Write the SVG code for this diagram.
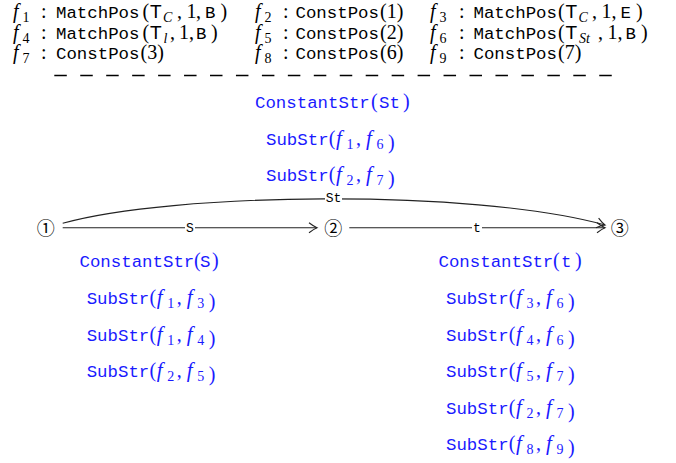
<svg xmlns="http://www.w3.org/2000/svg" width="676" height="463" viewBox="0 0 676 463">
<style>
text{fill:#000;}
.mi{font-family:"Liberation Serif",serif;font-style:italic;font-size:21px;}
.mh{font-family:"Liberation Serif",serif;font-style:italic;font-size:20px;}
.rm{font-family:"Liberation Serif",serif;font-size:20px;}
.tt{font-family:"Liberation Mono",monospace;font-size:17.4px;}
.sf{font-family:"Liberation Sans",sans-serif;font-size:19px;}
.sub{font-family:"Liberation Serif",serif;font-size:14px;}
.subi{font-family:"Liberation Serif",serif;font-style:italic;font-size:14px;}
.blue text,.blue tspan{fill:#1a1aff;}
.node{font-family:"Noto Sans CJK JP","DejaVu Sans",sans-serif;font-size:18px;text-anchor:middle;dominant-baseline:central;}
.edge{fill:none;stroke:#222;stroke-width:1.1;}
.lbl{font-family:"Liberation Mono",monospace;font-size:13px;text-anchor:middle;dominant-baseline:central;}
.lblbg{fill:#fff;}
</style>
<defs>
<marker id="to" viewBox="-9 -6 11 12" refX="0" refY="0" markerWidth="11" markerHeight="12" markerUnits="userSpaceOnUse" orient="auto">
<path d="M-8,-5 Q-3,-1.2 0,0 Q-3,1.2 -8,5" fill="none" stroke="#222" stroke-width="1.1"/>
</marker>
</defs>

<g id="legend">
<text y="18"><tspan class="mh" x="13">f</tspan><tspan class="sub" x="22.5" y="22">1</tspan><tspan class="rm" x="41" y="18">:</tspan><tspan class="tt" x="56">MatchPos</tspan><tspan class="rm" x="142.5">(</tspan><tspan class="sf" x="150">T</tspan><tspan class="subi" x="163" y="22">C</tspan><tspan class="rm" x="177" y="18">,</tspan><tspan class="rm" x="186.5">1</tspan><tspan class="rm" x="196">,</tspan><tspan class="tt" x="205">B</tspan><tspan class="rm" x="220.5">)</tspan></text>
<text y="18"><tspan class="mh" x="255">f</tspan><tspan class="sub" x="264.5" y="22">2</tspan><tspan class="rm" x="283" y="18">:</tspan><tspan class="tt" x="295.5">ConstPos</tspan><tspan class="rm" x="380">(1)</tspan></text>
<text y="18"><tspan class="mh" x="430">f</tspan><tspan class="sub" x="439.5" y="22">3</tspan><tspan class="rm" x="459" y="18">:</tspan><tspan class="tt" x="473.5">MatchPos</tspan><tspan class="rm" x="558">(</tspan><tspan class="sf" x="565.5">T</tspan><tspan class="subi" x="578.5" y="22">C</tspan><tspan class="rm" x="592" y="18">,</tspan><tspan class="rm" x="601.5">1</tspan><tspan class="rm" x="611.5">,</tspan><tspan class="tt" x="620.5">E</tspan><tspan class="rm" x="636">)</tspan></text>

<text y="38.5"><tspan class="mh" x="13">f</tspan><tspan class="sub" x="22.5" y="42.5">4</tspan><tspan class="rm" x="41" y="38.5">:</tspan><tspan class="tt" x="56">MatchPos</tspan><tspan class="rm" x="142.5">(</tspan><tspan class="sf" x="150">T</tspan><tspan class="subi" x="163.5" y="42.5">l</tspan><tspan class="rm" x="170" y="38.5">,</tspan><tspan class="rm" x="179">1</tspan><tspan class="rm" x="189">,</tspan><tspan class="tt" x="196">B</tspan><tspan class="rm" x="211">)</tspan></text>
<text y="38.5"><tspan class="mh" x="255">f</tspan><tspan class="sub" x="264.5" y="42.5">5</tspan><tspan class="rm" x="283" y="38.5">:</tspan><tspan class="tt" x="295.5">ConstPos</tspan><tspan class="rm" x="380">(2)</tspan></text>
<text y="38.5"><tspan class="mh" x="430">f</tspan><tspan class="sub" x="439.5" y="42.5">6</tspan><tspan class="rm" x="459" y="38.5">:</tspan><tspan class="tt" x="473.5">MatchPos</tspan><tspan class="rm" x="558">(</tspan><tspan class="sf" x="565.5">T</tspan><tspan class="subi" x="579" y="42.5">St</tspan><tspan class="rm" x="598" y="38.5">,</tspan><tspan class="rm" x="607.5">1</tspan><tspan class="rm" x="617.5">,</tspan><tspan class="tt" x="625.5">B</tspan><tspan class="rm" x="641">)</tspan></text>

<text y="59"><tspan class="mh" x="13">f</tspan><tspan class="sub" x="22.5" y="63">7</tspan><tspan class="rm" x="41" y="59">:</tspan><tspan class="tt" x="56">ConstPos</tspan><tspan class="rm" x="140.5">(3)</tspan></text>
<text y="59"><tspan class="mh" x="255">f</tspan><tspan class="sub" x="264.5" y="63">8</tspan><tspan class="rm" x="283" y="59">:</tspan><tspan class="tt" x="295.5">ConstPos</tspan><tspan class="rm" x="380">(6)</tspan></text>
<text y="59"><tspan class="mh" x="430">f</tspan><tspan class="sub" x="439.5" y="63">9</tspan><tspan class="rm" x="459" y="59">:</tspan><tspan class="tt" x="473.5">ConstPos</tspan><tspan class="rm" x="558">(7)</tspan></text>

<line x1="54.3" y1="75.5" x2="612" y2="75.5" stroke="#000" stroke-width="1.3" stroke-dasharray="12.5 13.45"/>
</g>

<g id="connectors">
<path id="e12" class="edge" d="M62.7,227.7 L317,227.7" marker-end="url(#to)"/>
<path id="e23" class="edge" d="M349.3,227.7 L605,227.7" marker-end="url(#to)"/>
<path id="e13" class="edge" d="M62.7,223.3 C170,193 470,188 605,225" marker-end="url(#to)"/>
<rect class="lblbg" x="185" y="221" width="10" height="13"/>
<text class="lbl" x="190" y="228">S</text>
<rect class="lblbg" x="472" y="221" width="10" height="13"/>
<text class="lbl" x="477" y="228">t</text>
<rect class="lblbg" x="325" y="191" width="17" height="13"/>
<text class="lbl" x="333.5" y="198">St</text>
</g>

<g id="n1"><text class="node" x="45.8" y="227">①</text></g>
<g id="n2"><text class="node" x="333.3" y="227">②</text></g>
<g id="n3"><text class="node" x="619.7" y="227">③</text></g>

<g id="label-e13" class="blue">
<text y="108"><tspan class="tt" x="255">ConstantStr</tspan><tspan class="rm" x="371">(</tspan><tspan class="tt" x="379">St</tspan><tspan class="rm" x="403">)</tspan></text>
<text y="145"><tspan class="tt" x="266">SubStr</tspan><tspan class="rm" x="328.7">(</tspan><tspan class="mi" x="336">f</tspan><tspan class="sub" x="346.5" y="149">1</tspan><tspan class="rm" x="356" y="145">,</tspan><tspan class="mi" x="366">f</tspan><tspan class="sub" x="376.5" y="149">6</tspan><tspan class="rm" x="388">)</tspan></text>
<text y="181"><tspan class="tt" x="266">SubStr</tspan><tspan class="rm" x="328.7">(</tspan><tspan class="mi" x="336">f</tspan><tspan class="sub" x="346.5" y="185">2</tspan><tspan class="rm" x="356" y="181">,</tspan><tspan class="mi" x="366">f</tspan><tspan class="sub" x="376.5" y="185">7</tspan><tspan class="rm" x="388">)</tspan></text>
</g>

<g id="label-e12" class="blue">
<text y="267"><tspan class="tt" x="79.5">ConstantStr</tspan><tspan class="rm" x="194">(</tspan><tspan class="tt" x="200">S</tspan><tspan class="rm" x="212">)</tspan></text>
<text y="304"><tspan class="tt" x="86.7">SubStr</tspan><tspan class="rm" x="149.4">(</tspan><tspan class="mi" x="156.7">f</tspan><tspan class="sub" x="167.2" y="308">1</tspan><tspan class="rm" x="176.7" y="304">,</tspan><tspan class="mi" x="186.7">f</tspan><tspan class="sub" x="197.2" y="308">3</tspan><tspan class="rm" x="208.7">)</tspan></text>
<text y="340.5"><tspan class="tt" x="86.7">SubStr</tspan><tspan class="rm" x="149.4">(</tspan><tspan class="mi" x="156.7">f</tspan><tspan class="sub" x="167.2" y="344.5">1</tspan><tspan class="rm" x="176.7" y="340.5">,</tspan><tspan class="mi" x="186.7">f</tspan><tspan class="sub" x="197.2" y="344.5">4</tspan><tspan class="rm" x="208.7">)</tspan></text>
<text y="377"><tspan class="tt" x="86.7">SubStr</tspan><tspan class="rm" x="149.4">(</tspan><tspan class="mi" x="156.7">f</tspan><tspan class="sub" x="167.2" y="381">2</tspan><tspan class="rm" x="176.7" y="377">,</tspan><tspan class="mi" x="186.7">f</tspan><tspan class="sub" x="197.2" y="381">5</tspan><tspan class="rm" x="208.7">)</tspan></text>
</g>

<g id="label-e23" class="blue">
<text y="267"><tspan class="tt" x="438.5">ConstantStr</tspan><tspan class="rm" x="553">(</tspan><tspan class="tt" x="561">t</tspan><tspan class="rm" x="575">)</tspan></text>
<text y="304"><tspan class="tt" x="446">SubStr</tspan><tspan class="rm" x="508.7">(</tspan><tspan class="mi" x="516">f</tspan><tspan class="sub" x="526.5" y="308">3</tspan><tspan class="rm" x="536" y="304">,</tspan><tspan class="mi" x="546">f</tspan><tspan class="sub" x="556.5" y="308">6</tspan><tspan class="rm" x="568">)</tspan></text>
<text y="340.5"><tspan class="tt" x="446">SubStr</tspan><tspan class="rm" x="508.7">(</tspan><tspan class="mi" x="516">f</tspan><tspan class="sub" x="526.5" y="344.5">4</tspan><tspan class="rm" x="536" y="340.5">,</tspan><tspan class="mi" x="546">f</tspan><tspan class="sub" x="556.5" y="344.5">6</tspan><tspan class="rm" x="568">)</tspan></text>
<text y="377"><tspan class="tt" x="446">SubStr</tspan><tspan class="rm" x="508.7">(</tspan><tspan class="mi" x="516">f</tspan><tspan class="sub" x="526.5" y="381">5</tspan><tspan class="rm" x="536" y="377">,</tspan><tspan class="mi" x="546">f</tspan><tspan class="sub" x="556.5" y="381">7</tspan><tspan class="rm" x="568">)</tspan></text>
<text y="414"><tspan class="tt" x="446">SubStr</tspan><tspan class="rm" x="508.7">(</tspan><tspan class="mi" x="516">f</tspan><tspan class="sub" x="526.5" y="418">2</tspan><tspan class="rm" x="536" y="414">,</tspan><tspan class="mi" x="546">f</tspan><tspan class="sub" x="556.5" y="418">7</tspan><tspan class="rm" x="568">)</tspan></text>
<text y="450"><tspan class="tt" x="446">SubStr</tspan><tspan class="rm" x="508.7">(</tspan><tspan class="mi" x="516">f</tspan><tspan class="sub" x="526.5" y="454">8</tspan><tspan class="rm" x="536" y="450">,</tspan><tspan class="mi" x="546">f</tspan><tspan class="sub" x="556.5" y="454">9</tspan><tspan class="rm" x="568">)</tspan></text>
</g>
</svg>
